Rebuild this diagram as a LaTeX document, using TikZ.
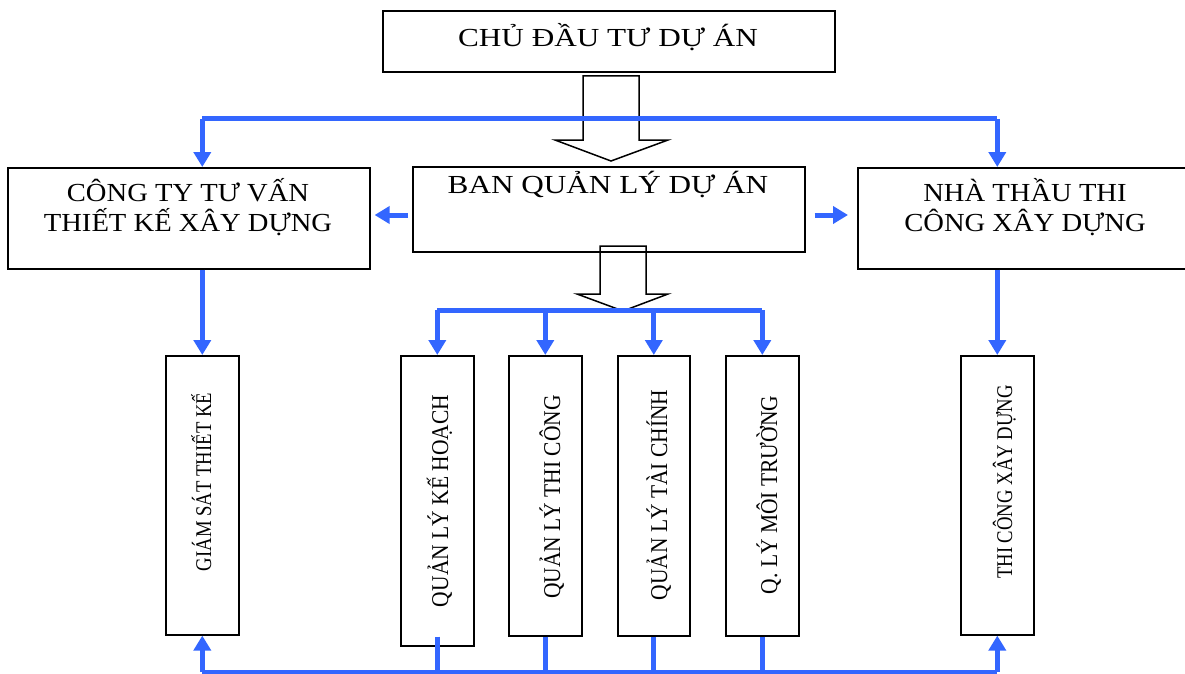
\documentclass[tikz,border=0pt]{standalone}
\usepackage{fontspec}
\setmainfont{Liberation Serif}
\usetikzlibrary{arrows.meta}
\definecolor{linkblue}{RGB}{51,102,255}
% horizontal labels are set slightly wide, vertical labels slightly tall
\newcommand{\hlab}[2][1.2]{\scalebox{#1}[1]{#2}}
\newcommand{\vlab}[2][1.12]{\scalebox{1}[#1]{#2}}
\begin{document}
\begin{tikzpicture}[x=1pt,y=-1pt,
  box/.style={draw=black,line width=1.6pt,rectangle,inner sep=0pt,anchor=north west},
  htext/.style={anchor=base,inner sep=0pt,font=\fontsize{26pt}{30pt}\selectfont},
  vtext/.style={anchor=base,inner sep=0pt,rotate=90,font=\fontsize{21.5pt}{25pt}\selectfont},
  vsmall/.style={vtext,font=\fontsize{18.7pt}{22pt}\selectfont},
  link/.style={draw=linkblue,line width=5pt},
  tip/.style={-{Triangle[width=17pt,length=15pt]}},
  hollow/.style={draw=black,line width=1.5pt,line join=miter}]
\useasboundingbox (0,0) rectangle (1185,674);

% boxes of the upper levels
\node[box,minimum width=452pt,minimum height=61pt] (own) at (382,10) {};
\node[box,minimum width=392pt,minimum height=85pt] (ban) at (412,166) {};
\node[box,minimum width=362pt,minimum height=101pt] (cty) at (7,167) {};
\node[box,minimum width=335pt,minimum height=101pt] (ntc) at (857,167) {};

\node[htext] (ownt) at (608,47) {\hlab{CHỦ ĐẦU TƯ DỰ ÁN}};
\node[htext] (bant) at (608,193) {\hlab{BAN QUẢN LÝ DỰ ÁN}};
\node[htext] (ctyt1) at (188,201) {\hlab[1.1]{CÔNG TY TƯ VẤN}};
\node[htext] (ctyt2) at (188,231) {\hlab[1.1]{THIẾT KẾ XÂY DỰNG}};
\node[htext] (ntct1) at (1025,201) {\hlab[1.1]{NHÀ THẦU THI}};
\node[htext] (ntct2) at (1025,231) {\hlab[1.1]{CÔNG XÂY DỰNG}};

% tall boxes of the lower level
\node[box,minimum width=73pt,minimum height=279pt] (gs) at (165,355) {};
\node[box,minimum width=73pt,minimum height=290pt] (q1) at (400,355) {};
\node[box,minimum width=73pt,minimum height=280pt] (q2) at (508,355) {};
\node[box,minimum width=72pt,minimum height=280pt] (q3) at (617,355) {};
\node[box,minimum width=73pt,minimum height=280pt] (q4) at (725,355) {};
\node[box,minimum width=73pt,minimum height=279pt] (tc) at (960,355) {};

\node[vsmall] (gst) at (211,482) {\vlab[1.2]{GIÁM SÁT THIẾT KẾ}};
\node[vtext] (q1t) at (448,501) {\vlab{QUẢN LÝ KẾ HOẠCH}};
\node[vtext] (q2t) at (560,497) {\vlab{QUẢN LÝ THI CÔNG}};
\node[vtext] (q3t) at (667,495) {\vlab{QUẢN LÝ TÀI CHÍNH}};
\node[vtext] (q4t) at (777,495) {\vlab{Q. LÝ MÔI TRƯỜNG}};
\node[vsmall] (tct) at (1012,482) {\vlab[1.2]{THI CÔNG XÂY DỰNG}};

% hollow block arrows
\draw[hollow] (583,76) -- (639,76) -- (639,140) -- (668,140) -- (611,161)
  -- (555,140) -- (583,140) -- cycle;
\draw[hollow] (600,246) -- (646,246) -- (646,294) -- (668,294) -- (623,311)
  -- (577,294) -- (600,294) -- cycle;

% blue connectors
\coordinate (topL) at (gs.north |- 0,119);
\coordinate (topR) at (tc.north |- 0,119);
\draw[link,tip] (topL) -- (topL |- cty.north);
\draw[link,tip] (topR) -- (topR |- ntc.north);
\draw[link] (topL) -- (topR);

\draw[link,tip,shorten <=4pt,shorten >=4pt] (ban.west |- 0,215) -- (cty.east |- 0,215);
\draw[link,tip,shorten <=9pt,shorten >=9pt] (ban.east |- 0,215) -- (ntc.west |- 0,215);

\draw[link,tip] (gs.north |- cty.south) -- (gs.north);
\draw[link,tip] (tc.north |- ntc.south) -- (tc.north);

\coordinate (busL) at (q1.north |- 0,310);
\coordinate (busR) at (q4.north |- 0,310);
\draw[link] (busL) -- (busR);
\foreach \b in {q1,q2,q3,q4} {
  \draw[link,tip] (\b.north |- 0,310) -- (\b.north);
}

\coordinate (botL) at (gs.south |- 0,672);
\coordinate (botR) at (tc.south |- 0,672);
\draw[link] (botL) -- (botR);
\draw[link,tip] (botL) -- (gs.south);
\draw[link,tip] (botR) -- (tc.south);
\foreach \b in {q1,q2,q3,q4} {
  \draw[link] (\b.south |- q2.south) -- (\b.south |- 0,672);
}
\end{tikzpicture}
\end{document}
